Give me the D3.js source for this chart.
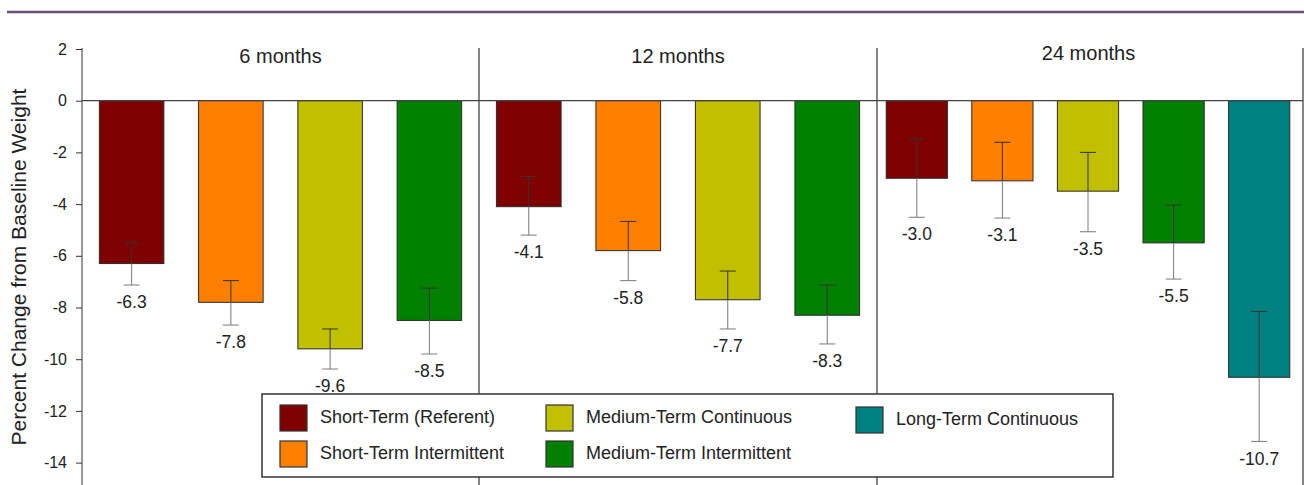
<!DOCTYPE html>
<html>
<head>
<meta charset="utf-8">
<script src="https://cdn.jsdelivr.net/npm/d3@7"></script>
<style>
  body { margin: 0; background: #fff; }
  svg { display: block; font-family: "Liberation Sans", Arial, sans-serif; }
</style>
</head>
<body>
<div id="chart"></div>
<script>
// data
const periods = ["6 months", "12 months", "24 months"];
const groups = [
  "Short-Term (Referent)",
  "Short-Term Intermittent",
  "Medium-Term Continuous",
  "Medium-Term Intermittent",
  "Long-Term Continuous"
];
const means6 = [-6.3, -7.8, -9.6, -8.5];
const means12 = [-4.1, -5.8, -7.7, -8.3];
const means24 = [-3.0, -3.1, -3.5, -5.5, -10.7];
const errTop6 = [-5.5, -6.96, -8.83, -7.25];
const errBot6 = [-7.13, -8.68, -10.38, -9.8];
const errTop12 = [-2.93, -4.67, -6.59, -7.13];
const errBot12 = [-5.2, -6.96, -8.83, -9.41];
const errTop24 = [-1.48, -1.61, -2.0, -4.04, -8.15];
const errBot24 = [-4.51, -4.54, -5.07, -6.9, -13.18];
const yTicks = [2, 0, -2, -4, -6, -8, -10, -12, -14];

const colors = ["#7f0000", "#ff8000", "#c0c000", "#008000", "#008080"];

const width = 1304;
const height = 485;
const axisX = 82;
const panelEdges = [[82, 479], [479, 877], [874, 1302]];
const dividers = [479, 877, 1303];

const svg = d3.select("#chart")
  .append("svg")
  .attr("width", width)
  .attr("height", height);

// purple rule at the top
svg.append("line")
  .attr("x1", 7).attr("x2", width)
  .attr("y1", 12).attr("y2", 12)
  .attr("stroke", "#6c4e7f")
  .attr("stroke-width", 2.5);

const y = d3.scaleLinear()
  .domain([2, -16])
  .range([49, 49 + 18 * 25.85]);

// y axis
const yAxis = d3.axisLeft(y)
  .tickValues(yTicks)
  .tickFormat(d => String(d))
  .tickSize(6)
  .tickSizeOuter(0)
  .tickPadding(9);

const gy = svg.append("g")
  .attr("transform", `translate(${axisX},0)`)
  .call(yAxis);
gy.select(".domain").attr("stroke", "#333").attr("d", `M0,${y(2) - 1}V${height}`);
gy.selectAll(".tick line").attr("stroke", "#333");
gy.selectAll(".tick text")
  .attr("fill", "#222")
  .style("font-size", "16px")
  .style("font-family", "'Liberation Sans', Arial, sans-serif");

svg.append("text")
  .attr("transform", `translate(26,${267}) rotate(-90)`)
  .attr("text-anchor", "middle")
  .attr("fill", "#222")
  .style("font-size", "21px")
  .text("Percent Change from Baseline Weight");

// panel dividers
svg.selectAll(".divider")
  .data(dividers)
  .enter()
  .append("line")
  .attr("class", "divider")
  .attr("x1", d => d).attr("x2", d => d)
  .attr("y1", y(2) - 1).attr("y2", height)
  .attr("stroke", "#333")
  .attr("stroke-width", 1.2);

const panels = [
  { name: periods[0], means: means6, top: errTop6, bot: errBot6, pad: 0.35, labelY: 63 },
  { name: periods[1], means: means12, top: errTop12, bot: errBot12, pad: 0.35, labelY: 63 },
  { name: periods[2], means: means24, top: errTop24, bot: errBot24, pad: 0.285, labelY: 60 }
];

panels.forEach((p, pi) => {
  const x = d3.scaleBand()
    .domain(p.means.map((d, i) => i))
    .range(panelEdges[pi])
    .paddingInner(p.pad)
    .paddingOuter(p.pad / 2);

  const g = svg.append("g").attr("class", "panel");
  const bw = x.bandwidth();
  const cx = i => x(i) + bw / 2;

  g.selectAll("rect")
    .data(p.means)
    .enter()
    .append("rect")
    .attr("x", (d, i) => x(i))
    .attr("y", y(0))
    .attr("width", bw)
    .attr("height", d => y(d) - y(0))
    .attr("fill", (d, i) => colors[i])
    .attr("stroke", "#2a2a2a")
    .attr("stroke-width", 1);

  // error bars: dark inside the bar, grey below it
  g.selectAll(".err-in")
    .data(p.means)
    .enter()
    .append("path")
    .attr("class", "err-in")
    .attr("d", (d, i) => `M${cx(i) - 8},${y(p.top[i])}H${cx(i) + 8}M${cx(i)},${y(p.top[i])}V${y(d)}`)
    .attr("stroke", "#333")
    .attr("fill", "none");

  g.selectAll(".err-out")
    .data(p.means)
    .enter()
    .append("path")
    .attr("class", "err-out")
    .attr("d", (d, i) => `M${cx(i)},${y(d)}V${y(p.bot[i])}M${cx(i) - 8},${y(p.bot[i])}H${cx(i) + 8}`)
    .attr("stroke", "#7a7a7a")
    .attr("fill", "none");

  g.selectAll(".val")
    .data(p.means)
    .enter()
    .append("text")
    .attr("class", "val")
    .attr("x", (d, i) => cx(i))
    .attr("y", (d, i) => y(p.bot[i]) + 17)
    .attr("dy", "0.35em")
    .attr("text-anchor", "middle")
    .attr("fill", "#222")
    .style("font-size", "17.5px")
    .text(d => d.toFixed(1));

  g.append("text")
    .attr("x", (panelEdges[pi][0] + dividers[pi]) / 2)
    .attr("y", p.labelY)
    .attr("text-anchor", "middle")
    .attr("fill", "#222")
    .style("font-size", "20px")
    .text(p.name);
});

// zero line drawn over the bar tops
svg.append("line")
  .attr("x1", axisX).attr("x2", 1303)
  .attr("y1", y(0)).attr("y2", y(0))
  .attr("stroke", "#444")
  .attr("stroke-width", 1.2);

//legend
const legend = svg.append("g").attr("id", "legend");
legend.append("rect")
  .attr("x", 262).attr("y", 394)
  .attr("width", 851).attr("height", 83)
  .attr("fill", "#fff")
  .attr("stroke", "#333")
  .attr("stroke-width", 1.5);

const legendCols = [280, 546, 856];
const legendRows = [405, 441];

const items = legend.selectAll(".item")
  .data(groups)
  .enter()
  .append("g")
  .attr("class", "item")
  .attr("transform", (d, i) => `translate(${legendCols[Math.floor(i / 2)]},${legendRows[i % 2] + (i === 4 ? 2 : 0)})`);

items.append("rect")
  .attr("width", 27)
  .attr("height", 26)
  .attr("fill", (d, i) => colors[i])
  .attr("stroke", "#333")
  .attr("stroke-width", 1.2);

items.append("text")
  .attr("x", 40)
  .attr("y", 12)
  .attr("dy", "0.35em")
  .attr("fill", "#222")
  .style("font-size", "18px")
  .text(d => d);
</script>
</body>
</html>
